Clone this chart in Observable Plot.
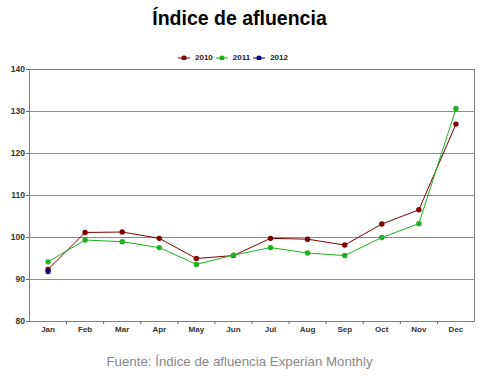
<!DOCTYPE html>
<html>
<head>
<meta charset="utf-8">
<script src="https://cdn.jsdelivr.net/npm/d3@7"></script>
<script src="https://cdn.jsdelivr.net/npm/@observablehq/plot@0.6"></script>
<style>
  html, body { margin: 0; padding: 0; background: #fff; }
  body { position: relative; width: 479px; height: 380px; overflow: hidden; font-family: "Liberation Sans", Arial, sans-serif; }
  #title { position: absolute; left: 0; width: 479px; top: 6px; text-align: center; font-weight: bold; font-size: 19.5px; color: #000; line-height: 24px; }
  #legend { position: absolute; left: 178px; top: 53px; display: flex; align-items: center; font-weight: bold; font-size: 8px; color: #222; line-height: 10px; }
  #legend .item { display: flex; align-items: center; margin-right: 3px; }
  #legend svg { display: block; margin-right: 5px; }
  #chart { position: absolute; left: 0; top: 60px; }
  #caption { position: absolute; left: 0; width: 479px; top: 354px; text-align: center; font-size: 13.3px; color: #888; line-height: 16px; }
</style>
</head>
<body>
<div id="title">Índice de afluencia</div>
<div id="legend"></div>
<div id="chart"></div>
<div id="caption">Fuente: Índice de afluencia Experian Monthly</div>
<script>
const months = ["Jan","Feb","Mar","Apr","May","Jun","Jul","Aug","Sep","Oct","Nov","Dec"];
const years = ["2010", "2011", "2012"];
const colors = ["#800000", "#1fb01f", "#000080"];
const values2010 = [92.4, 101.2, 101.3, 99.8, 95.0, 95.7, 99.8, 99.6, 98.2, 103.2, 106.6, 127.0];
const values2011 = [94.2, 99.4, 99.0, 97.6, 93.6, 95.8, 97.6, 96.3, 95.7, 100.0, 103.3, 130.7];
const values2012 = [91.9];
const yTicks = [80, 90, 100, 110, 120, 130, 140];

const series = [values2010, values2011, values2012];
const data = [];
series.forEach((vals, s) => vals.forEach((v, i) => data.push({year: years[s], month: months[i], value: v})));

const xPos = d => months.indexOf(d.month) + 0.5;

// legend
const legend = document.getElementById("legend");
years.forEach((y, i) => {
  const item = document.createElement("div");
  item.className = "item";
  item.innerHTML = `<svg width="12" height="8"><line x1="0" x2="12" y1="4" y2="4" stroke="${colors[i]}" stroke-width="1"/><circle cx="6" cy="4" r="2.6" fill="${colors[i]}"/></svg><span>${y}</span>`;
  legend.appendChild(item);
});

const chart = Plot.plot({
  width: 479,
  height: 285,
  marginTop: 9,
  marginBottom: 24,
  marginLeft: 29,
  marginRight: 5,
  style: {fontFamily: "'Liberation Sans', Arial, sans-serif", fontSize: "8px", color: "#333", background: "#fff"},
  x: {type: "linear", domain: [0, 12], axis: null},
  y: {domain: [80, 140], axis: null},
  color: {domain: years, range: colors},
  marks: [
    Plot.gridY(yTicks, {stroke: "#8c8c8c", strokeOpacity: 1}),
    Plot.frame({stroke: "#808080"}),
    Plot.axisY(yTicks, {tickSize: 3, tickPadding: 1.5, fontWeight: "bold", fontSize: 8.5, fill: "#333", stroke: "#666", label: null}),
    Plot.axisX(d3.range(1, 12), {tickSize: 3, tickFormat: () => "", stroke: "#666", label: null}),
    Plot.axisX(months.map((m, i) => i + 0.5), {tickSize: 0, tickPadding: 5, tickFormat: d => months[Math.floor(d)], fontWeight: "bold", fontSize: 8, fill: "#333", label: null}),
    Plot.line(data, {x: xPos, y: "value", z: "year", stroke: "year", strokeWidth: 1}),
    Plot.dot(data, {x: xPos, y: "value", fill: "year", r: 2.7})
  ]
});
document.getElementById("chart").appendChild(chart);
</script>
</body>
</html>
